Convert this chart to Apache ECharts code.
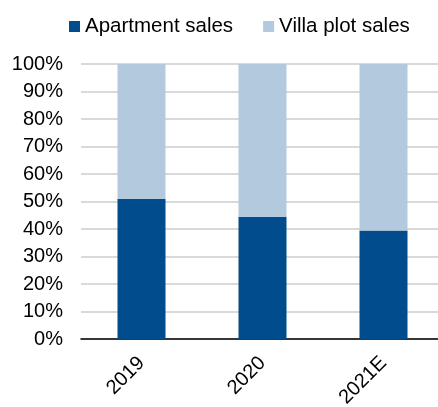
<!DOCTYPE html>
<html style="height: 100%">
<head>
  <meta charset="utf-8">
  <script src="https://cdn.jsdelivr.net/npm/echarts@6/dist/echarts.min.js"></script>
</head>
<body style="height: 100%; margin: 0">
  <div id="main" style="height: 407px; width: 438px"></div>
  <script type="text/javascript">
    var categories = ['2019', '2020', '2021E'];
    var apartmentSales = [51, 44.5, 39.5];
    var villaPlotSales = [49, 55.5, 60.5];

    var chart = echarts.init(document.getElementById('main'));
    var font = 'Liberation Sans, Arial, sans-serif';

    var option = {
      animation: false,
      textStyle: { fontFamily: font },
      legend: {
        top: 11,
        left: 64,
        itemWidth: 11,
        itemHeight: 11,
        itemGap: 30,
        icon: 'rect',
        textStyle: { fontSize: 20.5, color: '#000', fontFamily: font },
        data: ['Apartment sales', 'Villa plot sales']
      },
      grid: { left: 81, width: 363, top: 64, height: 275, outerBoundsMode: 'none', containLabel: false },
      xAxis: {
        type: 'category',
        data: categories,
        axisTick: { show: false },
        axisLine: { lineStyle: { color: '#000', width: 1.5 } },
        axisLabel: { rotate: 45, fontSize: 20, color: '#000', margin: 21, fontFamily: font }
      },
      yAxis: {
        type: 'value',
        min: 0,
        max: 100,
        interval: 10,
        axisLine: { show: false },
        axisTick: { show: false },
        splitLine: { lineStyle: { color: '#d9d9d9', width: 2 } },
        axisLabel: { formatter: '{value}%', fontSize: 20, color: '#000', margin: 18, fontFamily: font }
      },
      series: [
        {
          name: 'Apartment sales',
          type: 'bar',
          stack: 'total',
          barWidth: 48,
          itemStyle: { color: '#004c8c' },
          data: apartmentSales
        },
        {
          name: 'Villa plot sales',
          type: 'bar',
          stack: 'total',
          barWidth: 48,
          itemStyle: { color: '#b3c9dd' },
          data: villaPlotSales
        }
      ]
    };
    chart.setOption(option);
  </script>
</body>
</html>
